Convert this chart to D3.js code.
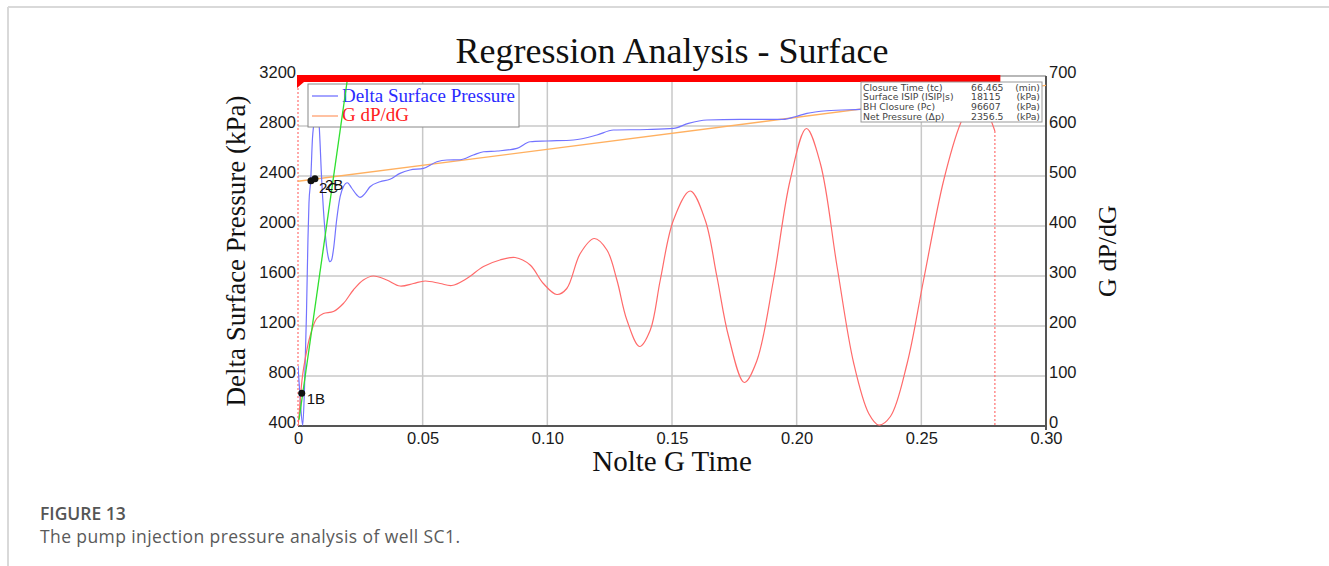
<!DOCTYPE html>
<html><head><meta charset="utf-8">
<script src="https://cdn.jsdelivr.net/npm/d3@7"></script>
<style>body{margin:0;background:#fff;} svg{display:block;}</style>
</head><body>
<svg id="c" width="1329" height="566"></svg>
<script>
// ---------- data ----------
const xTicks = [0, 0.05, 0.10, 0.15, 0.20, 0.25, 0.30];
const xTickLabels = ["0", "0.05", "0.10", "0.15", "0.20", "0.25", "0.30"];
const leftTicks = [400, 800, 1200, 1600, 2000, 2400, 2800, 3200];
const rightTicks = [0, 100, 200, 300, 400, 500, 600, 700];

// Delta Surface Pressure (kPa, left axis)
const pressureX = [0.0000, 0.0006, 0.0013, 0.0019, 0.0026, 0.0034, 0.0040, 0.0044, 0.0051, 0.0058, 0.0064, 0.0070, 0.0077, 0.0085, 0.0095, 0.0108, 0.0122, 0.0128, 0.0135, 0.0142, 0.0155, 0.0169, 0.0182, 0.0198, 0.0215, 0.0236, 0.0249, 0.0269, 0.0289, 0.0329, 0.0369, 0.0409, 0.0449, 0.0503, 0.0557, 0.0597, 0.0650, 0.0703, 0.0744, 0.0800, 0.0878, 0.0931, 0.1000, 0.1105, 0.1199, 0.1265, 0.1400, 0.1506, 0.1566, 0.1640, 0.1774, 0.1946, 0.1994, 0.2041, 0.2121, 0.2255, 0.2400];
const pressureY = [880, 700, 500, 405, 700, 1300, 1900, 2184, 2368, 2700, 2830, 2960, 2960, 2800, 2370, 1968, 1744, 1714, 1730, 1808, 2048, 2235, 2314, 2346, 2304, 2248, 2229, 2261, 2314, 2354, 2374, 2421, 2448, 2461, 2514, 2528, 2530, 2568, 2594, 2600, 2621, 2674, 2680, 2688, 2728, 2768, 2772, 2781, 2821, 2848, 2853, 2853, 2874, 2901, 2922, 2933, 2945];

// G dP/dG (right axis)
const gdpX = [0.0000, 0.0004, 0.0010, 0.0018, 0.0028, 0.0048, 0.0075, 0.0102, 0.0142, 0.0182, 0.0222, 0.0262, 0.0302, 0.0356, 0.0409, 0.0463, 0.0510, 0.0570, 0.0617, 0.0677, 0.0744, 0.0810, 0.0871, 0.0931, 0.0984, 0.1038, 0.1078, 0.1132, 0.1188, 0.1239, 0.1279, 0.1319, 0.1370, 0.1413, 0.1453, 0.1506, 0.1573, 0.1633, 0.1680, 0.1727, 0.1790, 0.1840, 0.1907, 0.1974, 0.2039, 0.2095, 0.2162, 0.2229, 0.2289, 0.2329, 0.2376, 0.2443, 0.2509, 0.2590, 0.2657, 0.2720, 0.2795];
const gdpY = [0, 20, 60, 100, 132, 179, 215, 225, 229, 245, 272, 292, 300, 292, 280, 285, 290, 285, 281, 295, 319, 332, 337, 322, 285, 263, 275, 345, 375, 352, 292, 212, 159, 192, 292, 412, 470, 412, 299, 179, 87, 130, 292, 492, 595, 525, 319, 125, 25, 2, 19, 125, 292, 492, 605, 665, 590];

// regression lines
const fitX = [0, 0.30], fitY = [2358, 3125];
const tangentX = [0.0004, 0.0200], tangentY = [450, 3200];

// picked points
const markerX = [0.0015, 0.0052, 0.0068];
const markerY = [662, 2362, 2378];
const markerLabels = ["1B", "2C", "2B"];

const closureX = 0.2795;
const closureBarX = [0, 0.2817];

const infoLabels = ["Closure Time (tc)", "Surface ISIP (ISIP|s)", "BH Closure (Pc)", "Net Pressure (\u0394p)"];
const infoValues = ["66.465", "18115", "96607", "2356.5"];
const infoUnits = ["(min)", "(kPa)", "(kPa)", "(kPa)"];

const legendNames = ["Delta Surface Pressure", "G dP/dG"];

// ---------- layout ----------
const L = 298, R = 1046, T = 76, B = 426;
const svg = d3.select("#c");
const x = d3.scaleLinear().domain([0, 0.30]).range([L, R]);
const yL = d3.scaleLinear().domain([400, 3200]).range([B, T]);
const yR = d3.scaleLinear().domain([0, 700]).range([B, T]);

const serif = "'Liberation Serif','Times New Roman',serif";
const sans = "'Liberation Sans',Arial,sans-serif";

// figure frame
svg.append("line").attr("x1", 8).attr("x2", 1329).attr("y1", 7).attr("y2", 7).attr("stroke", "#d9d9d9").attr("stroke-width", 2);
svg.append("line").attr("x1", 8).attr("x2", 8).attr("y1", 7).attr("y2", 566).attr("stroke", "#d9d9d9").attr("stroke-width", 2);

// grid
const grid = svg.append("g");
grid.selectAll("line.v").data(xTicks.filter(d => d > 0 && d < 0.3)).join("line")
  .attr("x1", d => x(d)).attr("x2", d => x(d)).attr("y1", T).attr("y2", B)
  .attr("stroke", "#c8c8c8").attr("stroke-width", 1.5);
grid.selectAll("line.h").data(leftTicks.filter(d => d > 400)).join("line")
  .attr("x1", L).attr("x2", R).attr("y1", d => yL(d)).attr("y2", d => yL(d))
  .attr("stroke", "#c8c8c8").attr("stroke-width", 1.5);

// axes frame
svg.append("line").attr("x1", L).attr("x2", R).attr("y1", T).attr("y2", T).attr("stroke", "#999").attr("stroke-width", 1);
svg.append("line").attr("x1", R).attr("x2", R).attr("y1", T).attr("y2", B + 4).attr("stroke", "#555").attr("stroke-width", 2);
svg.append("line").attr("x1", L).attr("x2", R).attr("y1", B).attr("y2", B).attr("stroke", "#555").attr("stroke-width", 2);

// tick labels via d3 axes
const ax = svg.append("g").attr("transform", `translate(0,${B})`)
  .call(d3.axisBottom(x).tickValues(xTicks).tickFormat((d, i) => xTickLabels[i]).tickSize(0).tickPadding(6));
const ayl = svg.append("g").attr("transform", `translate(${L},0)`)
  .call(d3.axisLeft(yL).tickValues(leftTicks).tickFormat(d3.format("d")).tickSize(0).tickPadding(2));
const ayr = svg.append("g").attr("transform", `translate(${R},0)`)
  .call(d3.axisRight(yR).tickValues(rightTicks).tickFormat(d3.format("d")).tickSize(0).tickPadding(3));
[ax, ayl, ayr].forEach(g => {
  g.select(".domain").remove();
  g.selectAll("text").attr("font-family", sans).attr("font-size", 16.5).attr("fill", "#1a1a1a");
});
ayl.selectAll("text").attr("y", -4);
ayr.selectAll("text").attr("y", -4);

// red dotted left edge
svg.append("line").attr("x1", L).attr("x2", L).attr("y1", T).attr("y2", B)
  .attr("stroke", "#ff7070").attr("stroke-width", 1.2).attr("stroke-dasharray", "2,2");

// clip
svg.append("clipPath").attr("id", "pc").append("rect").attr("x", L).attr("y", T).attr("width", R - L).attr("height", B - T);
const plot = svg.append("g").attr("clip-path", "url(#pc)");

// orange regression line
plot.append("path").datum(fitX.map((d, i) => [d, fitY[i]]))
  .attr("d", d3.line().x(d => x(d[0])).y(d => yL(d[1])))
  .attr("fill", "none").attr("stroke", "#ffb060").attr("stroke-width", 1.3);

// blue pressure
plot.append("path").datum(pressureX.map((d, i) => [d, pressureY[i]]))
  .attr("d", d3.line().x(d => x(d[0])).y(d => yL(d[1])).curve(d3.curveMonotoneX))
  .attr("fill", "none").attr("stroke", "#7373ff").attr("stroke-width", 1.2);

// red G dP/dG
plot.append("path").datum(gdpX.map((d, i) => [d, gdpY[i]]))
  .attr("d", d3.line().x(d => x(d[0])).y(d => yR(d[1])).curve(d3.curveCatmullRom.alpha(0.5)))
  .attr("fill", "none").attr("stroke", "#ff6a6a").attr("stroke-width", 1.2);

// closure dotted line
plot.append("line").attr("x1", x(closureX)).attr("x2", x(closureX)).attr("y1", yR(590)).attr("y2", B)
  .attr("stroke", "#ff7070").attr("stroke-width", 1.2).attr("stroke-dasharray", "2,2");

// legend
const lg = svg.append("g");
lg.append("rect").attr("x", 308).attr("y", 84).attr("width", 211).attr("height", 43)
  .attr("fill", "#fff").attr("stroke", "#888").attr("stroke-width", 1);
const legColors = ["#7373ff", "#ffa070"], legText = ["#2b2bff", "#ff2020"];
legendNames.forEach((n, i) => {
  lg.append("line").attr("x1", 312).attr("x2", 338).attr("y1", 96 + i * 20).attr("y2", 96 + i * 20)
    .attr("stroke", legColors[i]).attr("stroke-width", 1.3);
  lg.append("text").attr("x", 342).attr("y", 102 + i * 19).attr("font-family", serif).attr("font-size", 19)
    .attr("fill", legText[i]).text(n);
});

// green tangent line (drawn over legend)
const plot2 = svg.append("g").attr("clip-path", "url(#pc)");
plot2.append("path").datum(tangentX.map((d, i) => [d, tangentY[i]]))
  .attr("d", d3.line().x(d => x(d[0])).y(d => yL(d[1])))
  .attr("fill", "none").attr("stroke", "#2ee02e").attr("stroke-width", 1.3);

// markers
const mk = svg.append("g");
mk.append("line").attr("x1", x(markerX[1])).attr("x2", x(markerX[2])).attr("y1", yL(markerY[1])).attr("y2", yL(markerY[2]))
  .attr("stroke", "#111").attr("stroke-width", 4);
mk.selectAll("circle").data(markerX).join("circle")
  .attr("cx", d => x(d)).attr("cy", (d, i) => yL(markerY[i])).attr("r", 3.5).attr("fill", "#111");
mk.selectAll("text").data(markerLabels).join("text")
  .attr("x", (d, i) => x(markerX[i]) + [5, 8, 10][i]).attr("y", (d, i) => yL(markerY[i]) + [11, 12, 11][i])
  .attr("font-family", sans).attr("font-size", 15).attr("fill", "#111").text(d => d);

// red closure bar at top
const bx0 = x(closureBarX[0]), bx1 = x(closureBarX[1]);
svg.append("polygon")
  .attr("points", `${bx0 - 1},${T - 1} ${bx1},${T - 1} ${bx1},${T + 6} ${bx0 + 6},${T + 6} ${bx0 - 1},${T + 12}`)
  .attr("fill", "#ff0000");

// info box
const ib = svg.append("g");
ib.append("rect").attr("x", 861).attr("y", 82).attr("width", 181).attr("height", 40)
  .attr("fill", "#fff").attr("stroke", "#999").attr("stroke-width", 1);
infoLabels.forEach((t, i) => {
  const yy = 90.5 + i * 9.7;
  ib.append("text").attr("x", 863).attr("y", yy).text(t);
  ib.append("text").attr("x", 971).attr("y", yy).text(infoValues[i]);
  ib.append("text").attr("x", 1040).attr("y", yy).attr("text-anchor", "end").text(infoUnits[i]);
});
ib.selectAll("text").attr("font-family", "'DejaVu Sans',Verdana,sans-serif").attr("font-size", 9.3).attr("fill", "#444");

// titles
svg.append("text").attr("x", 672).attr("y", 63).attr("text-anchor", "middle")
  .attr("font-family", serif).attr("font-size", 36).attr("fill", "#111").text("Regression Analysis - Surface");
svg.append("text").attr("x", 672).attr("y", 471).attr("text-anchor", "middle")
  .attr("font-family", serif).attr("font-size", 29).attr("fill", "#111").text("Nolte G Time");
svg.append("text").attr("transform", "translate(245,251) rotate(-90)").attr("text-anchor", "middle")
  .attr("font-family", serif).attr("font-size", 27).attr("fill", "#111").text("Delta Surface Pressure (kPa)");
svg.append("text").attr("transform", "translate(1116,251) rotate(-90)").attr("text-anchor", "middle")
  .attr("font-family", serif).attr("font-size", 26).attr("fill", "#111").text("G dP/dG");

// caption
svg.append("text").attr("x", 40).attr("y", 520).attr("font-family", "'Open Sans',sans-serif")
  .attr("font-weight", 600).attr("font-size", 17.5).attr("fill", "#555").text("FIGURE 13");
svg.append("text").attr("x", 40).attr("y", 543).attr("font-family", "'Open Sans',sans-serif")
  .attr("font-size", 17.5).attr("fill", "#5a5a5a").attr("textLength", 420).attr("lengthAdjust", "spacing")
  .text("The pump injection pressure analysis of well SC1.");
</script>
</body></html>
